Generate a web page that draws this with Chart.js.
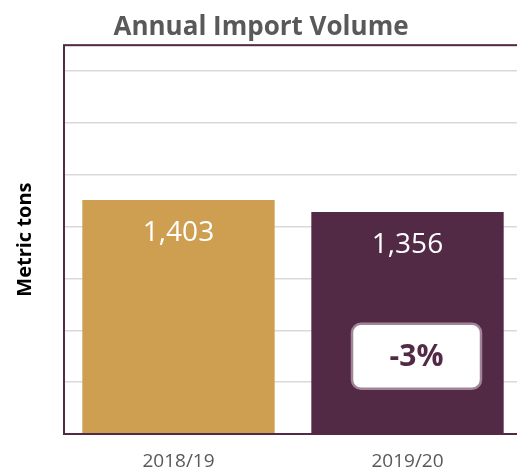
<!DOCTYPE html>
<html>
<head>
<meta charset="utf-8">
<script src="https://cdn.jsdelivr.net/npm/chart.js@4/dist/chart.umd.min.js"></script>
<style>
  html, body { margin: 0; padding: 0; overflow: hidden; background: #ffffff; }
  #wrap { position: relative; width: 522px; height: 471px; }
</style>
</head>
<body>
<div id="wrap"><canvas id="importChart"></canvas></div>
<script>
// data
const seasons = ['2018/19', '2019/20'];
const importTons = [1403, 1356];
const changeLabels = ['', '-3%'];
const barColors = ['#CE9F51', '#532A45'];

// axis range (grid every 200 t, starting at 500)
const yMin = 500;
const yMax = 2000;
const yStep = 200;

const maroon = '#532A45';

// value labels inside the bars
const valueLabels = {
  id: 'valueLabels',
  afterDatasetsDraw(chart) {
    const ctx = chart.ctx;
    const meta = chart.getDatasetMeta(0);
    ctx.save();
    ctx.fillStyle = '#ffffff';
    ctx.font = '28px "Open Sans"';
    ctx.textAlign = 'center';
    ctx.textBaseline = 'middle';
    meta.data.forEach((bar, i) => {
      ctx.fillText(importTons[i].toLocaleString('en-US'), bar.x, bar.y + 33);
    });
    ctx.restore();
  }
};

// rounded box with the change in %
const changeBox = {
  id: 'changeBox',
  afterDatasetsDraw(chart) {
    const ctx = chart.ctx;
    const meta = chart.getDatasetMeta(0);
    const yScale = chart.scales.y;
    meta.data.forEach((bar, i) => {
      if (!changeLabels[i]) return;
      const cx = bar.x + 9;
      const cy = yScale.getPixelForValue(800);
      const w = 129, h = 65;
      ctx.save();
      ctx.beginPath();
      ctx.roundRect(cx - w / 2, cy - h / 2, w, h, 9);
      ctx.fillStyle = '#ffffff';
      ctx.fill();
      ctx.lineWidth = 2.5;
      ctx.strokeStyle = '#A08596';
      ctx.stroke();
      ctx.fillStyle = maroon;
      ctx.font = 'bold 30px "Open Sans"';
      ctx.textAlign = 'center';
      ctx.textBaseline = 'middle';
      ctx.fillText(changeLabels[i], cx, cy + 1);
      ctx.restore();
    });
  }
};

// maroon frame round the plot area
const plotFrame = {
  id: 'plotFrame',
  afterDraw(chart) {
    const { ctx, chartArea } = chart;
    ctx.save();
    ctx.strokeStyle = maroon;
    ctx.lineWidth = 2;
    ctx.strokeRect(chartArea.left, chartArea.top, chartArea.right - chartArea.left, chartArea.bottom - chartArea.top);
    ctx.restore();
  }
};

new Chart(document.getElementById('importChart'), {
  type: 'bar',
  data: {
    labels: seasons,
    datasets: [{
      label: 'Metric tons',
      data: importTons,
      backgroundColor: barColors,
      borderWidth: 0,
      categoryPercentage: 1,
      barPercentage: 0.84
    }]
  },
  options: {
    responsive: true,
    maintainAspectRatio: false,
    animation: false,
    layout: { padding: 0 },
    plugins: {
      legend: { display: false },
      tooltip: { enabled: false },
      title: {
        display: true,
        text: 'Annual Import Volume',
        color: '#595959',
        font: { family: '"Open Sans"', size: 26, weight: 'bold' },
        padding: { top: 12, bottom: 2 }
      }
    },
    scales: {
      x: {
        grid: { display: false, drawTicks: false },
        border: { display: false },
        ticks: {
          color: '#595959',
          font: { family: '"Open Sans"', size: 19 },
          padding: 16
        },
        afterFit(scale) { scale.height = 37; }
      },
      y: {
        min: yMin,
        max: yMax,
        grid: { color: '#D9D9D9', lineWidth: 1.5, drawTicks: false },
        border: { display: false },
        ticks: { display: false },
        // gridlines every 200 t counted from the axis minimum
        afterBuildTicks(scale) {
          const ticks = [];
          for (let v = yMin; v < yMax; v += yStep) ticks.push({ value: v });
          ticks.push({ value: yMax });
          scale.ticks = ticks;
        },
        title: {
          display: true,
          text: 'Metric tons',
          color: '#000000',
          font: { family: '"Open Sans"', size: 20, weight: 'bold' },
          padding: { top: 13, bottom: 27 }
        }
      }
    }
  },
  plugins: [valueLabels, changeBox, plotFrame]
});
</script>
</body>
</html>
